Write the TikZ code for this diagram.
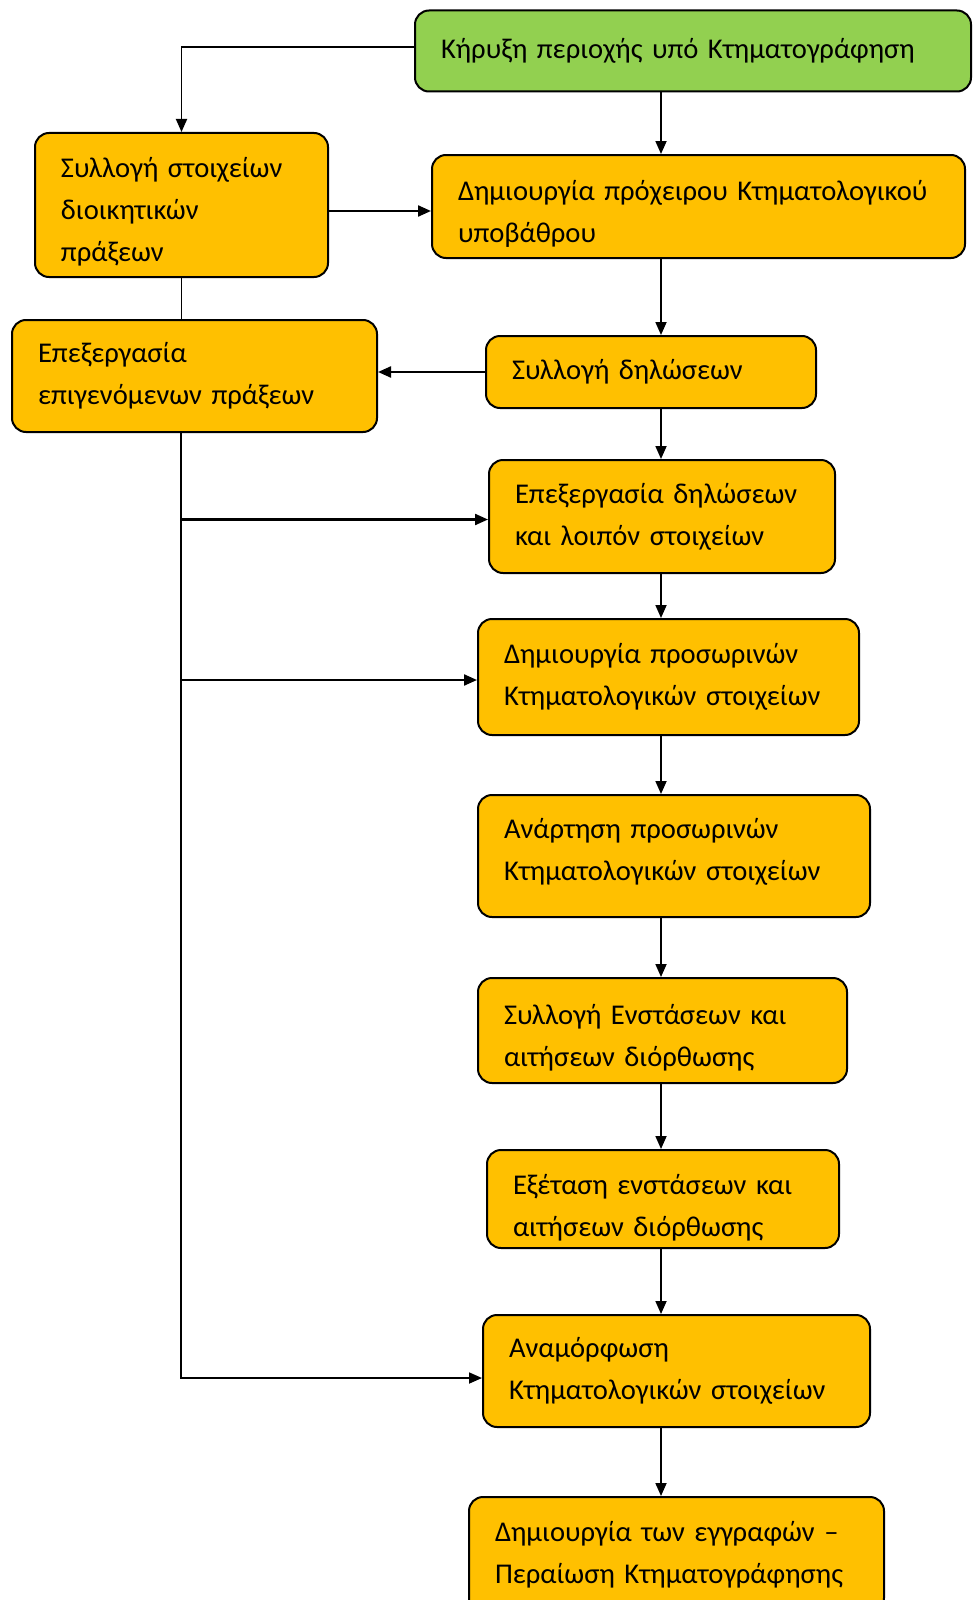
\documentclass[tikz,border=0pt]{standalone}
\usepackage{fontspec}
\setmainfont{Carlito}
\usetikzlibrary{arrows.meta}
\definecolor{boxorange}{HTML}{FFC000}
\definecolor{boxgreen}{HTML}{92D050}
\newcommand{\lowr}[1]{\rule{0pt}{#1}}
\tikzset{
  stepbox/.style={draw, line width=1pt, rounded corners=7pt, fill=boxorange,
    inner xsep=13pt, inner ysep=0pt, align=left,
    font=\fontsize{14.3}{21}\selectfont},
  conn/.style={line width=0.9pt, -{Triangle[length=6.5pt,width=5.5pt]}},
  plain/.style={line width=0.9pt}
}
\begin{document}
\begin{tikzpicture}[x=0.5pt, y=-0.5pt]
  \useasboundingbox (0,0) rectangle (973,1600);
  % guide lines
  \coordinate (mid) at (661,0);
  \coordinate (spine) at (181,0);
  % top
  \node[stepbox, fill=boxgreen, text width=252pt, minimum height=40.5pt] (b1) at (693,51)
    {Κήρυξη περιοχής υπό Κτηματογράφηση};
  \node[stepbox, text width=120.5pt, minimum height=72pt] (b2) at (181.5,205)
    {\lowr{17pt}Συλλογή στοιχείων\\διοικητικών\\πράξεων};
  \node[stepbox, text width=240.5pt, minimum height=51.5pt] (b3) at (698.5,206.5)
    {\lowr{17pt}Δημιουργία πρόχειρου Κτηματολογικού\\υποβάθρου};
  \node[stepbox, text width=156.5pt, minimum height=56pt] (b4) at (194.5,376)
    {Επεξεργασία\\επιγενόμενων πράξεων};
  \node[stepbox, text width=139pt, minimum height=36pt] (b5) at (651,372)
    {Συλλογή δηλώσεων};
  % main column
  \node[stepbox, text width=147pt, minimum height=56.5pt] (b6) at (662,516.5)
    {Επεξεργασία δηλώσεων\\και λοιπόν στοιχείων};
  \node[stepbox, text width=164.5pt, minimum height=58pt] (b7) at (668.5,677)
    {Δημιουργία προσωρινών\\Κτηματολογικών στοιχείων};
  \node[stepbox, text width=170pt, minimum height=61pt] (b8) at (674,856)
    {Ανάρτηση προσωρινών\\Κτηματολογικών στοιχείων\rule[-7pt]{0pt}{7pt}};
  \node[stepbox, text width=158.5pt, minimum height=52.5pt] (b9) at (662.5,1030.5)
    {\lowr{17pt}Συλλογή Ενστάσεων και\\αιτήσεων διόρθωσης};
  \node[stepbox, text width=150pt, minimum height=49pt] (b10) at (663,1199)
    {\lowr{19pt}Εξέταση ενστάσεων και\\αιτήσεων διόρθωσης};
  \node[stepbox, text width=167.5pt, minimum height=56pt] (b11) at (676.5,1371)
    {Αναμόρφωση\\Κτηματολογικών στοιχείων};
  \node[stepbox, text width=181.5pt, minimum height=57.5pt] (b12) at (676.5,1554.5)
    {Δημιουργία των εγγραφών –\\Περαίωση Κτηματογράφησης};
  % connectors
  \draw[conn] ([yshift=2pt]b1.west) -| (b2.north);
  \draw[conn] (b1.south -| mid) -- (b3.north -| mid);
  \draw[conn, line width=1.1pt] ([yshift=-3pt]b2.east) -- ([yshift=-3pt]b2.east -| b3.west);
  \draw[plain] (b2.south) -- (b2.south |- b4.north);
  \draw[conn] (b3.south -| mid) -- (b5.north -| mid);
  \draw[conn, line width=1.1pt] (b5.west) -- (b5.west -| b4.east);
  \draw[conn] (b5.south -| mid) -- (b6.north -| mid);
  \draw[conn] (b6.south -| mid) -- (b7.north -| mid);
  \draw[conn] (b7.south -| mid) -- (b8.north -| mid);
  \draw[conn] (b8.south -| mid) -- (b9.north -| mid);
  \draw[conn] (b9.south -| mid) -- (b10.north -| mid);
  \draw[conn] (b10.south -| mid) -- (b11.north -| mid);
  \draw[conn] (b11.south -| mid) -- (b12.north -| mid);
  % spine on the left
  \draw[conn] (b4.south -| spine) -- ([yshift=-3.5pt]spine |- b11.west) -- ([yshift=-3.5pt]b11.west);
  \draw[conn, line width=1.1pt] ([yshift=-1.5pt]spine |- b6.west) -- ([yshift=-1.5pt]b6.west);
  \draw[conn, line width=1.1pt] ([yshift=-1.5pt]spine |- b7.west) -- ([yshift=-1.5pt]b7.west);
\end{tikzpicture}
\end{document}
